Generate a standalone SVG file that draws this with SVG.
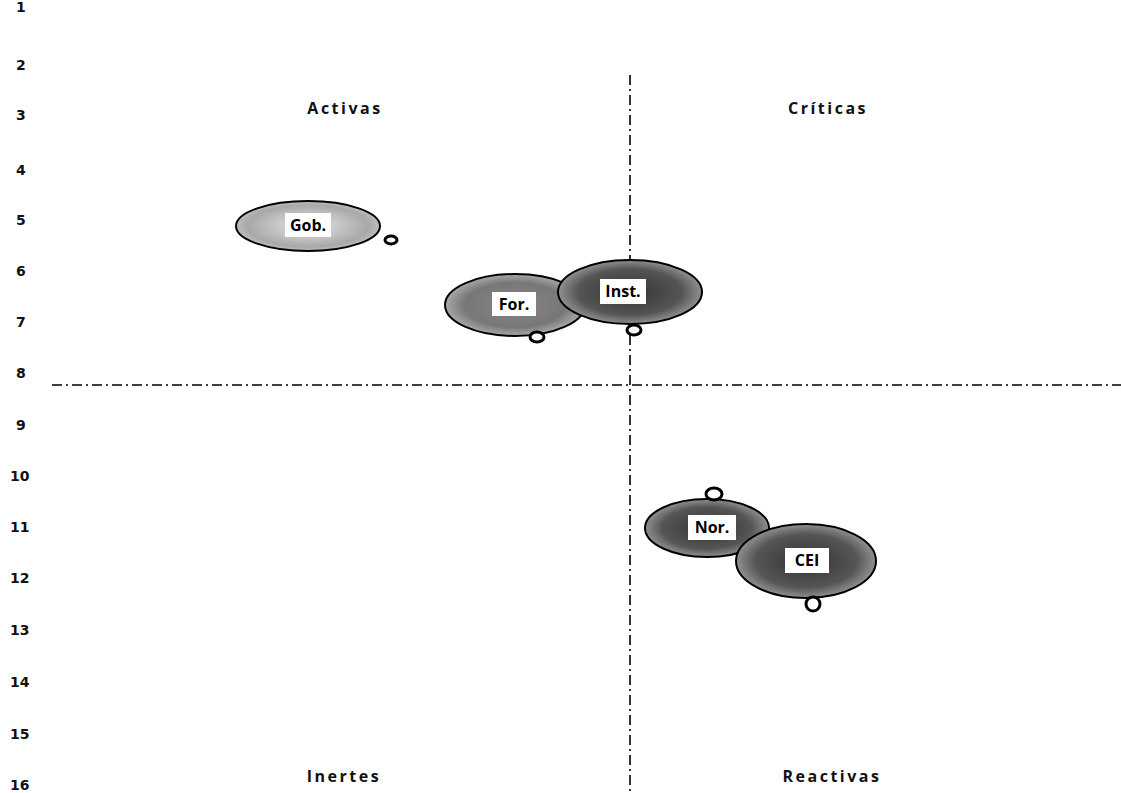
<svg xmlns="http://www.w3.org/2000/svg" width="1121" height="793" viewBox="0 0 1121 793">
<style>
.num{font-family:"DejaVu Sans",sans-serif;font-size:14px;font-weight:bold;fill:#111}
.quad{font-family:"Open Sans","DejaVu Sans",sans-serif;font-size:16px;font-weight:bold;fill:#111;text-anchor:middle;letter-spacing:2.5px}
.axis{stroke:#000;stroke-width:1.6;stroke-dasharray:10 4 2 4;fill:none}
.bub{stroke:#000;stroke-width:2}
.lbl{font-family:"Open Sans","DejaVu Sans",sans-serif;font-size:16px;font-weight:bold;fill:#000;text-anchor:middle}
.box{fill:#fff}
.ring{fill:#fff;stroke:#000;stroke-width:3}
</style>
<defs>
<radialGradient id="gL" cx="0.5" cy="0.5" r="0.6"><stop offset="0" stop-color="#e8e8e8"/><stop offset="0.7" stop-color="#a8a8a8"/><stop offset="1" stop-color="#d8d8d8"/></radialGradient>
<radialGradient id="gD" cx="0.5" cy="0.5" r="0.6"><stop offset="0" stop-color="#333"/><stop offset="0.6" stop-color="#555"/><stop offset="1" stop-color="#bbb"/></radialGradient>
<radialGradient id="gM" cx="0.5" cy="0.5" r="0.6"><stop offset="0" stop-color="#888"/><stop offset="0.6" stop-color="#777"/><stop offset="1" stop-color="#ccc"/></radialGradient>
</defs>
<rect width="1121" height="793" fill="#fff"/>
<g id="yaxis">
<text class="num" x="16" y="12">1</text>
<text class="num" x="16" y="70">2</text>
<text class="num" x="16" y="120">3</text>
<text class="num" x="16" y="175">4</text>
<text class="num" x="16" y="225">5</text>
<text class="num" x="16" y="276">6</text>
<text class="num" x="16" y="327">7</text>
<text class="num" x="16" y="378">8</text>
<text class="num" x="16" y="430">9</text>
<text class="num" x="10" y="481">10</text>
<text class="num" x="10" y="532">11</text>
<text class="num" x="10" y="583">12</text>
<text class="num" x="10" y="635">13</text>
<text class="num" x="10" y="687">14</text>
<text class="num" x="10" y="739">15</text>
<text class="num" x="10" y="790">16</text>
</g>
<g id="connectors">
<line class="axis" x1="630" y1="75" x2="630" y2="793"/>
<line class="axis" x1="52" y1="385" x2="1121" y2="385"/>
</g>
<g id="quadrants">
<text class="quad" x="345" y="114">Activas</text>
<text class="quad" x="828" y="114">Críticas</text>
<text class="quad" x="344" y="782">Inertes</text>
<text class="quad" x="832" y="782">Reactivas</text>
</g>
<g id="gob">
<ellipse class="bub" cx="308" cy="226" rx="72" ry="25" fill="url(#gL)"/>
<rect class="box" x="285" y="213" width="46" height="24"/>
<text class="lbl" x="308" y="231">Gob.</text>
<ellipse class="ring" cx="391" cy="240" rx="6" ry="4"/>
</g>
<g id="for">
<ellipse class="bub" cx="515" cy="305" rx="70" ry="31" fill="url(#gM)"/>
<rect class="box" x="492" y="292" width="44" height="24"/>
<text class="lbl" x="514" y="310">For.</text>
<ellipse class="ring" cx="537" cy="337" rx="7" ry="5"/>
</g>
<g id="inst">
<ellipse class="bub" cx="630" cy="292" rx="72" ry="32" fill="url(#gD)"/>
<rect class="box" x="600" y="279" width="46" height="25"/>
<text class="lbl" x="623" y="297">Inst.</text>
<ellipse class="ring" cx="634" cy="330" rx="7" ry="5"/>
</g>
<g id="nor">
<ellipse class="bub" cx="707" cy="528" rx="62" ry="29" fill="url(#gD)"/>
<rect class="box" x="688" y="515" width="48" height="25"/>
<text class="lbl" x="712" y="533">Nor.</text>
<ellipse class="ring" cx="714" cy="494" rx="8" ry="6"/>
</g>
<g id="cei">
<ellipse class="bub" cx="806" cy="561" rx="70" ry="37" fill="url(#gD)"/>
<rect class="box" x="785" y="548" width="44" height="25"/>
<text class="lbl" x="807" y="566">CEI</text>
<ellipse class="ring" cx="813" cy="604" rx="7" ry="7" fill="#000"/>
</g>
</svg>
